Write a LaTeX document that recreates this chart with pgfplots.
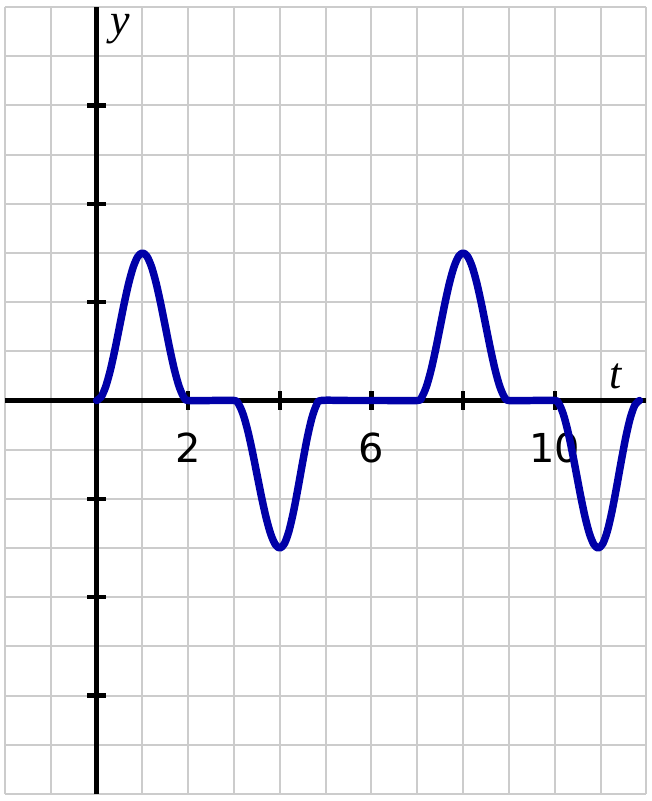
\documentclass[border=0pt]{standalone}
\usepackage{fontspec}
\setmainfont{DejaVu Sans}
\newfontfamily\labelfont{Liberation Serif}
\usepackage{pgfplots}
\pgfplotsset{compat=1.18}
\definecolor{curveblue}{RGB}{0,0,168}
\definecolor{gridgray}{RGB}{204,204,204}

\begin{document}
\begin{tikzpicture}
\begin{axis}[
    scale only axis, width=321.5pt, height=394.5pt,
    xmin=-2, xmax=12, ymin=-8, ymax=8,
    axis lines=middle, axis line style={line width=2.5pt,-},
    xtick={2,4,6,8,10}, xticklabels={2,,6,,10},
    ytick={-6,-4,-2,2,4,6}, yticklabels={},
    minor xtick={-2,-1,...,12}, minor ytick={-8,-7,...,8},
    grid=both, major grid style={gridgray,line width=1pt},
    minor grid style={gridgray,line width=1pt},
    tick align=center, major tick length=9.5pt, minor tick length=0pt,
    tick style={line width=2.2pt,black},
    /pgf/number format/assume math mode=true,
    xticklabel style={font=\fontsize{20}{24}\selectfont, anchor=north, yshift=-8pt},
    xlabel={\labelfont\itshape t}, ylabel={\labelfont\itshape y},
    xlabel style={font=\fontsize{22}{26}\selectfont, at={(axis description cs:0.952,0.531)}, anchor=center},
    ylabel style={font=\fontsize{22}{26}\selectfont, at={(axis description cs:0.179,0.972)}, anchor=center, rotate=0},
    clip=false,
]
\addplot[curveblue, line width=3.75pt, line join=round, line cap=round, smooth] coordinates {
 (0,0) (0.1,0.073) (0.2,0.287) (0.3,0.618) (0.4,1.036) (0.5,1.5) (0.6,1.964) (0.7,2.382) (0.8,2.714) (0.9,2.927) (1,3)
 (1.1,2.927) (1.2,2.714) (1.3,2.382) (1.4,1.964) (1.5,1.5) (1.6,1.036) (1.7,0.618) (1.8,0.287) (1.9,0.073) (2,0)
 (2.5,0) (3,0)
 (3.1,-0.073) (3.2,-0.287) (3.3,-0.618) (3.4,-1.036) (3.5,-1.5) (3.6,-1.964) (3.7,-2.382) (3.8,-2.714) (3.9,-2.927) (4,-3)
 (4.1,-2.909) (4.2,-2.649) (4.3,-2.25) (4.4,-1.760) (4.5,-1.240) (4.6,-0.75) (4.7,-0.351) (4.8,-0.090) (4.9,0)
 (5.5,0) (6.3,0) (7,0)
 (7.1,0.073) (7.2,0.287) (7.3,0.618) (7.4,1.036) (7.5,1.5) (7.6,1.964) (7.7,2.382) (7.8,2.714) (7.9,2.927) (8,3)
 (8.1,2.927) (8.2,2.714) (8.3,2.382) (8.4,1.964) (8.5,1.5) (8.6,1.036) (8.7,0.618) (8.8,0.287) (8.9,0.073) (9,0)
 (9.5,0) (10,0)
 (10.095,-0.073) (10.19,-0.287) (10.285,-0.618) (10.38,-1.036) (10.475,-1.5) (10.57,-1.964) (10.665,-2.382) (10.76,-2.714) (10.855,-2.927) (10.95,-3)
 (11.05,-2.909) (11.15,-2.649) (11.25,-2.25) (11.35,-1.760) (11.45,-1.240) (11.55,-0.75) (11.65,-0.351) (11.75,-0.090) (11.85,0)
};
\end{axis}
\path (current axis.south west) ++(-2.5pt,-3.5pt);
\path (current axis.north east) ++(2.5pt,3.5pt);
\end{tikzpicture}
\end{document}
